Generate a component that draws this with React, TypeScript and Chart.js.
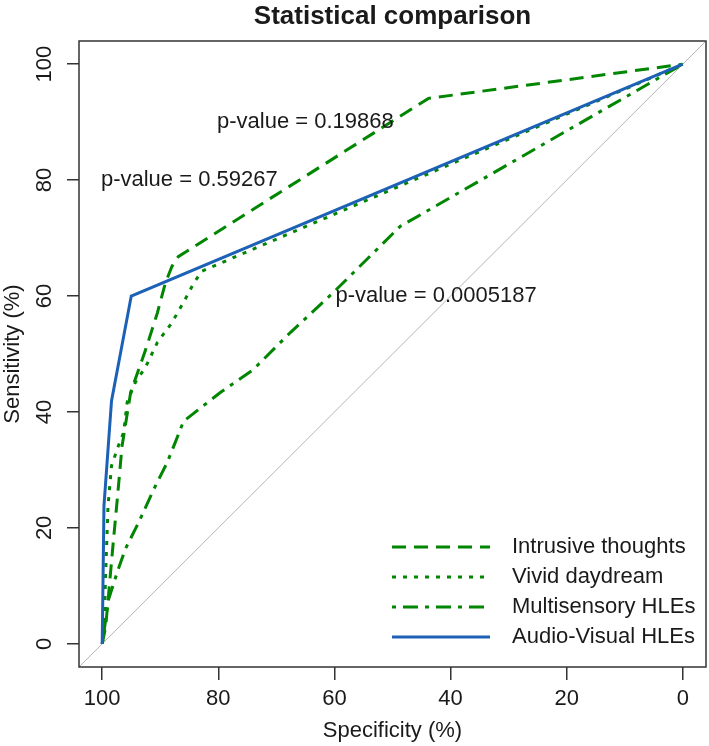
import React, { useEffect, useRef } from 'react';
import { Chart, registerables } from 'chart.js';

Chart.register(...registerables);

// ---------- data ----------
const chartTitle = 'Statistical comparison';
const xTitle = 'Specificity (%)';
const yTitle = 'Sensitivity (%)';
const xTicks = [0, 20, 40, 60, 80, 100];
const yTicks = [0, 20, 40, 60, 80, 100];

const seriesNames = ['Intrusive thoughts', 'Vivid daydream', 'Multisensory HLEs', 'Audio-Visual HLEs'];

const intrusiveSpec = [100, 99.4, 98, 97.4, 96.6, 95.1, 92.5, 90.5, 89.1, 88, 86.9, 43.8, 0];
const intrusiveSens = [0, 3, 18.6, 25, 34, 43.4, 50.8, 57.1, 62.3, 65.1, 66.8, 94.1, 100];

const vividSpec = [100, 99.7, 99.4, 99, 98.4, 97.2, 96.3, 95.7, 94.3, 92.5, 90.5, 88, 86, 84.2, 82.8, 0];
const vividSens = [0, 2, 12.4, 23.8, 30.7, 34.2, 36.5, 41.7, 45.1, 47.8, 52, 55.4, 58.9, 62.3, 64.3, 100];

const multiSpec = [100, 98.9, 97.4, 96, 93.7, 91.1, 88.8, 87.4, 86, 79.6, 74, 67.6, 60.2, 48.7, 0];
const multiSens = [0, 7.7, 12.4, 16.4, 21, 26.7, 31.3, 34.8, 38.4, 43.4, 47.3, 53.7, 60.6, 72, 100];

const audioSpec = [100, 99.7, 98.4, 95, 0];
const audioSens = [0, 23.8, 41.9, 60, 100];

const diagSpec = [104, -4];
const diagSens = [-4, 104];

const pValueTexts = ['p-value = 0.19868', 'p-value = 0.59267', 'p-value = 0.0005187'];

// ---------- layout / style ----------
const FONT = "'Liberation Sans', Arial, Helvetica, sans-serif";
const GREEN = '#008600';
const BLUE = '#1c61b6';
const INK = '#1a1a1a';
const AXIS = '#333333';
const W = 709;
const H = 746;
const TEXT_SIZE = 22;

const pValueAnchors = [
  { x: 65, y: 90 },
  { x: 85, y: 80 },
  { x: 42.5, y: 60 },
];

const dashes = {
  dashed: [14, 8],
  dotted: [4, 7],
  dotdash: [4, 7, 15, 7],
  solid: [] as number[],
};

const legendItems = [
  { name: seriesNames[0], color: GREEN, dash: dashes.dashed },
  { name: seriesNames[1], color: GREEN, dash: dashes.dotted },
  { name: seriesNames[2], color: GREEN, dash: dashes.dotdash },
  { name: seriesNames[3], color: BLUE, dash: dashes.solid },
];

const zip = (xs: number[], ys: number[]) => xs.map((x, i) => ({ x, y: ys[i] }));

const overlayPlugin = {
  id: 'overlay',
  afterDraw(chart: any) {
    const { ctx, chartArea: a, scales } = chart;
    const xs = scales.x;
    const ys = scales.y;
    ctx.save();
    // box
    ctx.strokeStyle = AXIS;
    ctx.lineWidth = 1.5;
    ctx.setLineDash([]);
    ctx.strokeRect(a.left, a.top, a.right - a.left, a.bottom - a.top);

    ctx.fillStyle = INK;
    ctx.font = `${TEXT_SIZE}px ${FONT}`;
    // rotated y tick labels
    yTicks.forEach((v) => {
      const py = ys.getPixelForValue(v);
      ctx.save();
      ctx.translate(45, py);
      ctx.rotate(-Math.PI / 2);
      ctx.textAlign = 'center';
      ctx.textBaseline = 'middle';
      ctx.fillText(String(v), 0, 0);
      ctx.restore();
    });

    // title
    ctx.font = `bold 26px ${FONT}`;
    ctx.textAlign = 'center';
    ctx.textBaseline = 'middle';
    ctx.fillText(chartTitle, (a.left + a.right) / 2, 17);

    // p-values
    ctx.font = `${TEXT_SIZE}px ${FONT}`;
    pValueTexts.forEach((t, i) => {
      const p = pValueAnchors[i];
      ctx.fillText(t, xs.getPixelForValue(p.x), ys.getPixelForValue(p.y));
    });

    // legend
    const lx0 = 392;
    const lx1 = 490;
    const tx = 512;
    const y0 = 547;
    const dy = 30;
    legendItems.forEach((it, i) => {
      const yy = y0 + i * dy;
      ctx.strokeStyle = it.color;
      ctx.lineWidth = 3;
      ctx.setLineDash(it.dash);
      ctx.beginPath();
      ctx.moveTo(lx0, yy);
      ctx.lineTo(lx1, yy);
      ctx.stroke();
      ctx.setLineDash([]);
      ctx.textAlign = 'left';
      ctx.textBaseline = 'middle';
      ctx.fillStyle = INK;
      ctx.fillText(it.name, tx, yy);
    });
    ctx.restore();
  },
};

export default function App() {
  const ref = useRef<HTMLCanvasElement | null>(null);

  useEffect(() => {
    if (!ref.current) return;
    const line = (label: string, xs: number[], ys: number[], color: string, dash: number[], width: number, order: number) => ({
      label,
      data: zip(xs, ys),
      showLine: true,
      borderColor: color,
      backgroundColor: color,
      borderWidth: width,
      borderDash: dash,
      pointRadius: 0,
      pointHoverRadius: 0,
      fill: false,
      tension: 0,
      order,
    });

    const chart = new Chart(ref.current, {
      type: 'scatter',
      data: {
        datasets: [
          line(seriesNames[3], audioSpec, audioSens, BLUE, dashes.solid, 3, 0),
          line(seriesNames[2], multiSpec, multiSens, GREEN, dashes.dotdash, 3, 1),
          line(seriesNames[1], vividSpec, vividSens, GREEN, dashes.dotted, 3, 2),
          line(seriesNames[0], intrusiveSpec, intrusiveSens, GREEN, dashes.dashed, 3, 3),
          line('diagonal', diagSpec, diagSens, '#b5b5b5', dashes.solid, 1, 4),
        ],
      },
      options: {
        responsive: false,
        animation: false,
        layout: { padding: { top: 41, right: 3, left: 0, bottom: 0 } },
        plugins: {
          legend: { display: false },
          tooltip: { enabled: false },
          title: { display: false },
        },
        scales: {
          x: {
            type: 'linear',
            min: -4,
            max: 104,
            reverse: true,
            afterBuildTicks: (s: any) => {
              s.ticks = xTicks.map((v) => ({ value: v }));
            },
            afterFit: (s: any) => {
              s.height = 79;
            },
            grid: { display: true, drawOnChartArea: false, drawTicks: true, tickLength: 13, color: AXIS, lineWidth: 1.5 },
            border: { display: false },
            ticks: {
              color: INK,
              font: { family: FONT, size: TEXT_SIZE },
              padding: 6,
              maxRotation: 0,
              minRotation: 0,
              autoSkip: false,
            },
            title: {
              display: true,
              text: xTitle,
              color: INK,
              font: { family: FONT, size: TEXT_SIZE },
              padding: { top: 0, bottom: 2 },
            },
          },
          y: {
            type: 'linear',
            min: -4,
            max: 104,
            afterBuildTicks: (s: any) => {
              s.ticks = yTicks.map((v) => ({ value: v }));
            },
            afterFit: (s: any) => {
              s.width = 79;
            },
            grid: { display: true, drawOnChartArea: false, drawTicks: true, tickLength: 12, color: AXIS, lineWidth: 1.5 },
            border: { display: false },
            ticks: { display: false },
            title: {
              display: true,
              text: yTitle,
              color: INK,
              font: { family: FONT, size: TEXT_SIZE },
              padding: { top: 0, bottom: 0 },
            },
          },
        },
      } as any,
      plugins: [overlayPlugin],
    });
    return () => chart.destroy();
  }, []);

  return (
    <div style={{ position: 'fixed', left: 0, top: 0, width: W, height: H, background: '#fff' }}>
      <canvas ref={ref} width={W} height={H} style={{ display: 'block' }} />
    </div>
  );
}
